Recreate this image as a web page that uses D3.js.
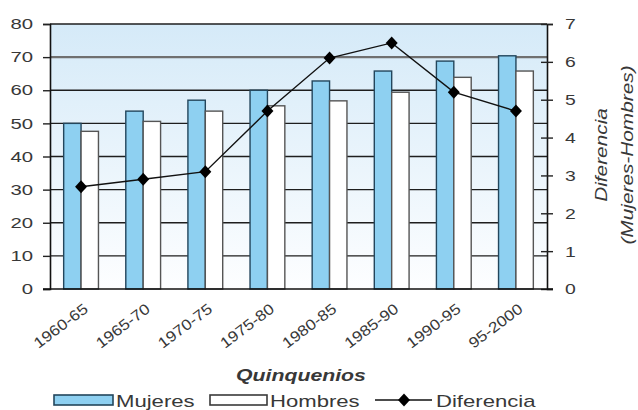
<!DOCTYPE html>
<html>
<head>
<meta charset="utf-8">
<script src="https://cdn.jsdelivr.net/npm/d3@7"></script>
<style>
  body { margin: 0; background: #fff; }
  text { font-family: "Liberation Sans", Arial, sans-serif; fill: #383838; }
</style>
</head>
<body>
<svg id="chart" width="638" height="410"></svg>
<script>
// values
var quinquenios = ["1960-65", "1965-70", "1970-75", "1975-80", "1980-85", "1985-90", "1990-95", "95-2000"];
var mujeres = [50, 53.7, 57, 60, 62.8, 65.8, 68.8, 70.4];
var hombres = [47.6, 50.6, 53.7, 55.3, 56.8, 59.4, 63.9, 65.8];
var diferencia = [2.7, 2.9, 3.1, 4.7, 6.1, 6.5, 5.2, 4.7];
var leftTicks = [0, 10, 20, 30, 40, 50, 60, 70, 80];
var rightTicks = [0, 1, 2, 3, 4, 5, 6, 7];
var series = ["Mujeres", "Hombres"];

var svg = d3.select("#chart");
var plotL = 50, plotR = 547, plotT = 24, plotB = 289;

// wide looking font of the original
function stretch(sel, k) {
    sel.each(function() {
        var w = this.getComputedTextLength();
        d3.select(this).attr("textLength", w * k).attr("lengthAdjust", "spacingAndGlyphs");
    });
}

var x0 = d3.scaleBand().domain(quinquenios).range([plotL, plotR])
    .paddingInner(0.44).paddingOuter(0.22);
var x1 = d3.scaleBand().domain(series).range([0, x0.bandwidth()]);
var y = d3.scaleLinear().domain([0, 80]).range([plotB, plotT]);
var y2 = d3.scaleLinear().domain([0, 7]).range([plotB, plotT]);

// background
var grad = svg.append("defs").append("linearGradient")
    .attr("id", "bg").attr("x1", 0).attr("y1", 0).attr("x2", 0).attr("y2", 1);
grad.append("stop").attr("offset", "0%").attr("stop-color", "#d5eaf8");
grad.append("stop").attr("offset", "100%").attr("stop-color", "#fdfeff");
svg.append("rect").attr("x", plotL).attr("y", plotT)
    .attr("width", plotR - plotL).attr("height", plotB - plotT)
    .attr("fill", "url(#bg)");

// grid lines
svg.append("g").selectAll("line").data(leftTicks.slice(1)).join("line")
    .attr("x1", plotL).attr("x2", plotR)
    .attr("y1", function(d) { return y(d); }).attr("y2", function(d) { return y(d); })
    .attr("stroke", function(d) { return d === 70 ? "#707070" : "#1e1e1e"; })
    .attr("stroke-width", function(d) { return d === 70 ? 2.4 : 1.4; });

// bars
var groups = svg.append("g").selectAll("g").data(quinquenios).join("g")
    .attr("transform", function(d) { return "translate(" + x0(d) + ",0)"; });
groups.selectAll("rect").data(function(d, i) {
        return [{key: "Mujeres", v: mujeres[i]}, {key: "Hombres", v: hombres[i]}];
    }).join("rect")
    .attr("x", function(d) { return x1(d.key); })
    .attr("width", x1.bandwidth())
    .attr("y", function(d) { return y(d.v); })
    .attr("height", function(d) { return plotB - y(d.v); })
    .attr("fill", function(d) { return d.key === "Mujeres" ? "#8ed0f1" : "#ffffff"; })
    .attr("stroke", function(d) { return d.key === "Mujeres" ? "#23465c" : "#555555"; })
    .attr("stroke-width", 1.4);

// left axis
var ax = svg.append("g").attr("transform", "translate(" + plotL + ",0)")
    .call(d3.axisLeft(y).tickValues(leftTicks).tickSize(7).tickPadding(10));
ax.select(".domain").attr("stroke", "#111").attr("stroke-width", 1.6);
ax.selectAll(".tick line").attr("stroke", "#222").attr("stroke-width", 1.4);
ax.selectAll("text").attr("font-size", 14.5).attr("fill", "#383838").attr("font-family", null);
stretch(ax.selectAll("text"), 1.4);

// right axis
var ax2 = svg.append("g").attr("transform", "translate(" + plotR + ",0)")
    .call(d3.axisRight(y2).tickValues(rightTicks).tickFormat(d3.format("d"))
        .tickSize(6).tickPadding(12));
ax2.select(".domain").attr("stroke", "#111").attr("stroke-width", 1.6);
ax2.selectAll(".tick line").attr("x1", -6).attr("stroke", "#222").attr("stroke-width", 1.4);
ax2.selectAll("text").attr("font-size", 15.5).attr("fill", "#383838").attr("font-family", null);
stretch(ax2.selectAll("text"), 1.25);

// bottom axis line
svg.append("line").attr("x1", plotL - 7).attr("x2", plotR + 6)
    .attr("y1", plotB).attr("y2", plotB)
    .attr("stroke", "#111").attr("stroke-width", 1.6);

// category labels
var xl = svg.append("g").selectAll("text").data(quinquenios).join("text")
    .attr("transform", function(d) {
        return "translate(" + (x0(d) + x0.bandwidth() / 2 + 8) + "," + 311 + ") rotate(-37)";
    })
    .attr("text-anchor", "end")
    .attr("font-size", 15)
    .text(function(d) { return d; });
stretch(xl, 1.15);

// diferencia line
var line = d3.line()
    .x(function(d, i) { return x0(quinquenios[i]) + x0.bandwidth() / 2; })
    .y(function(d) { return y2(d); });
svg.append("path").datum(diferencia)
    .attr("d", line).attr("fill", "none")
    .attr("stroke", "#111").attr("stroke-width", 1.4);
var diamond = "M0,-6.5L6,0L0,6.5L-6,0Z";
svg.append("g").selectAll("path").data(diferencia).join("path")
    .attr("d", diamond)
    .attr("transform", function(d, i) {
        return "translate(" + (x0(quinquenios[i]) + x0.bandwidth() / 2) + "," + y2(d) + ")";
    })
    .attr("fill", "#000");

// right axis title
var rt = svg.append("g");
rt.append("text").attr("transform", "translate(607,155) rotate(-90)")
    .attr("text-anchor", "middle").attr("font-size", 16).attr("font-style", "italic")
    .text("Diferencia");
rt.append("text").attr("transform", "translate(633,155) rotate(-90)")
    .attr("text-anchor", "middle").attr("font-size", 16).attr("font-style", "italic")
    .text("(Mujeres-Hombres)");
stretch(rt.selectAll("text"), 1.3);

// x title
var xt = svg.append("text").attr("x", 301).attr("y", 381)
    .attr("text-anchor", "middle").attr("font-size", 17)
    .attr("font-style", "italic").attr("font-weight", "bold")
    .attr("fill", "#2a2a2a")
    .text("Quinquenios");
stretch(xt, 1.25);

// legend
var lg = svg.append("g");
lg.append("rect").attr("x", 54).attr("y", 395).attr("width", 59).attr("height", 10)
    .attr("fill", "#8ed0f1").attr("stroke", "#23465c").attr("stroke-width", 1.6);
lg.append("rect").attr("x", 210).attr("y", 395).attr("width", 57).attr("height", 10)
    .attr("fill", "#fff").attr("stroke", "#3a3a3a").attr("stroke-width", 1.6);
lg.append("line").attr("x1", 375).attr("x2", 432).attr("y1", 400).attr("y2", 400)
    .attr("stroke", "#111").attr("stroke-width", 1.5);
lg.append("path").attr("d", diamond).attr("transform", "translate(404,400)").attr("fill", "#000");
var lt = lg.selectAll("text.lab").data([["Mujeres", 116], ["Hombres", 270], ["Diferencia", 436]])
    .join("text").attr("class", "lab")
    .attr("x", function(d) { return d[1]; }).attr("y", 407)
    .attr("font-size", 17)
    .text(function(d) { return d[0]; });
stretch(lt, 1.3);
</script>
</body>
</html>
